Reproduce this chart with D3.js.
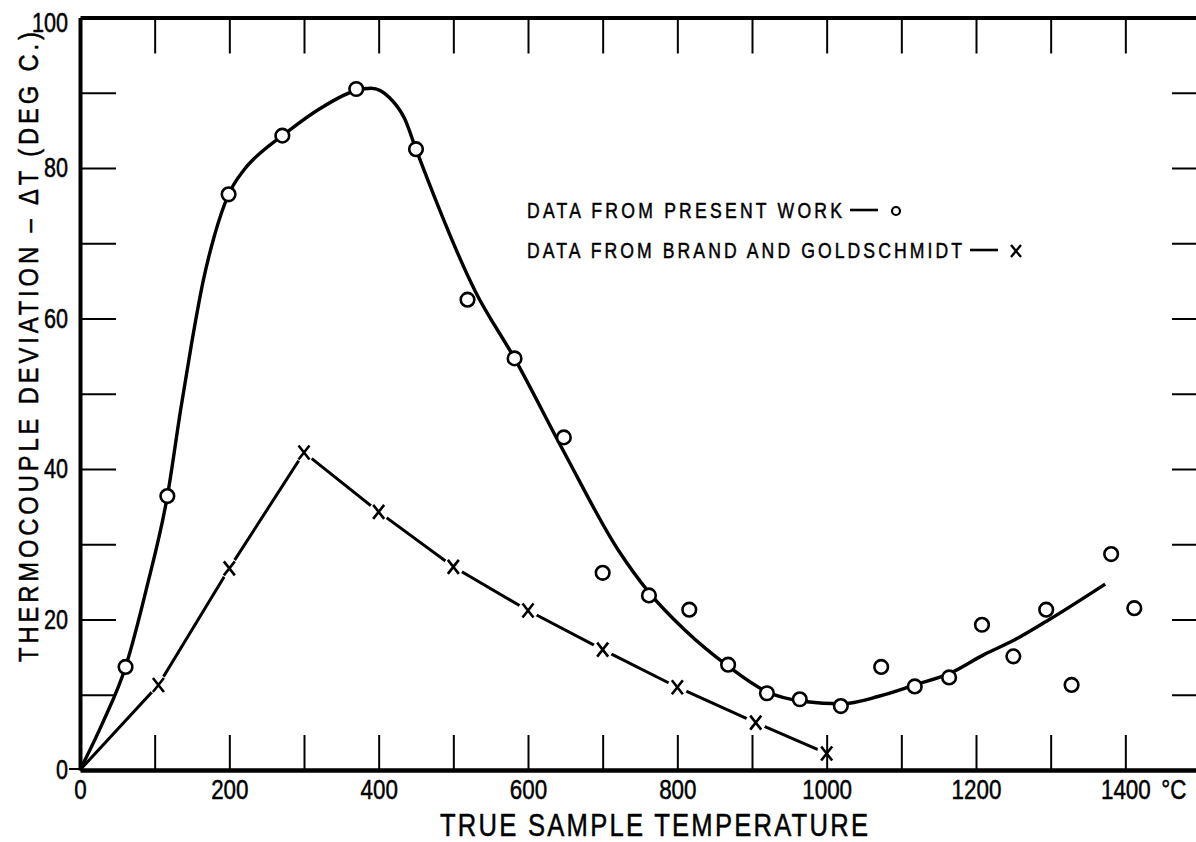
<!DOCTYPE html>
<html><head><meta charset="utf-8">
<script src="https://cdn.jsdelivr.net/npm/d3@7"></script>
<style>
html,body{margin:0;padding:0;background:#fff;}
svg{display:block;background:#fff;}
text{font-family:"Liberation Sans",Arial,sans-serif;fill:#000;stroke:#000;stroke-width:0.5;}
</style></head><body>
<svg id="c" width="1196" height="842"></svg>
<script>
// ---- data ----
const presentT  = [61,117,199,271,370,450,519,582,648,700,762,816,868,920,964,1019,1073,1118,1164,1208,1250,1294,1328,1381,1412];
const presentDT = [13.7,36.4,76.5,84.3,90.5,82.5,62.5,54.7,44.2,26.2,23.2,21.3,14.0,10.2,9.4,8.5,13.7,11.1,12.3,19.3,15.1,21.3,11.3,28.7,21.5];

// smooth curve drawn through the present-work data
const fitT  = [0,30,61,90,117,135,150,165,180,199,220,245,271,320,370,390,415,435,450,530,582,648,721,762,810,868,920,970,1020,1070,1118,1164,1210,1250,1295,1373];
const fitDT = [0,6.2,13.7,24.5,36.4,48,57,65,71,76.5,79.8,82.3,84.3,87.8,90.3,90.6,89.3,86.5,82.5,63.5,54.7,42.3,29.2,23.6,18.6,13.8,10.4,9.1,8.8,9.8,11.3,12.8,15.3,17.2,19.8,24.7];

const brandT  = [0,105,200,300,400,500,600,700,800,905,1000];
const brandDT = [0,11.3,26.8,42.2,34.3,27.0,21.2,16.0,11.0,6.3,2.2];

const xTickValues = [100,200,300,400,500,600,700,800,900,1000,1100,1200,1300,1400];
const xTickLabels = [0,200,400,600,800,1000,1200,1400];
const yTickValues = [10,20,30,40,50,60,70,80,90];
const yTickLabels = [0,20,40,60,80,100];
const xUnit = "°C";
const xTitle = "TRUE SAMPLE TEMPERATURE";
const yTitle = "THERMOCOUPLE DEVIATION – ΔT (DEG C.)";
const legendLabels = ["DATA FROM PRESENT WORK", "DATA FROM BRAND AND GOLDSCHMIDT"];
const legendMarks = ["o", "x"];

// ---- scales ----
const x = d3.scaleLinear().domain([0,1500]).range([80,1200]);
const y = d3.scaleLinear().domain([0,100]).range([770,17.5]);
const SX = 0.8; // condensed lettering

const svg = d3.select("#c");

const brand = brandT.map((t,i)=>({t, v:brandDT[i]}));
const present = presentT.map((t,i)=>({t, v:presentDT[i]}));
const fit = fitT.map((t,i)=>({t, v:fitDT[i]}));

svg.append("path").datum(brand)
  .attr("d", d3.line().x(d=>x(d.t)).y(d=>y(d.v)))
  .attr("fill","none").attr("stroke","#000").attr("stroke-width",3);

// knockouts around x markers (broken line look)
svg.append("g").selectAll("circle").data(brand.slice(1)).join("circle")
  .attr("cx",d=>x(d.t)).attr("cy",d=>y(d.v)).attr("r",10).attr("fill","#fff");

svg.append("path").datum(fit)
  .attr("d", d3.line().curve(d3.curveMonotoneX).x(d=>x(d.t)).y(d=>y(d.v)))
  .attr("fill","none").attr("stroke","#000").attr("stroke-width",3.4);

// ---- axes ----
function styleAxis(g, w){
  g.select(".domain").attr("stroke","#000").attr("stroke-width",w);
  g.selectAll(".tick line").attr("stroke","#000").attr("stroke-width",2);
  g.selectAll("text").attr("font-family",null);
}
const fontTick = 28;

const gB = svg.append("g").attr("transform",`translate(0,${y(0)})`)
  .call(d3.axisBottom(x).tickValues([0,...xTickValues]).tickSize(-35).tickSizeOuter(0).tickPadding(9)
    .tickFormat(d=> xTickLabels.includes(d) ? d : ""));
styleAxis(gB,4.5);
gB.selectAll("text").attr("font-size",fontTick).attr("transform",`scale(${SX},1)`);
gB.selectAll(".tick").filter(d=>d===0).select("line").remove();

const gT = svg.append("g").attr("transform",`translate(0,${y(100)})`)
  .call(d3.axisTop(x).tickValues(xTickValues).tickSize(-36).tickSizeOuter(0).tickFormat(""));
styleAxis(gT,4);

const gL = svg.append("g").attr("transform",`translate(${x(0)},0)`)
  .call(d3.axisLeft(y).tickValues([0,...yTickValues,100]).tickSize(-36).tickSizeOuter(0).tickPadding(12)
    .tickFormat(d=> yTickLabels.includes(d) ? d : ""));
styleAxis(gL,4);
gL.selectAll(".tick").filter(d=>d===0||d===100).select("line").remove();
gL.selectAll("text").attr("font-size",27).attr("x",-12/SX).attr("transform",`scale(${SX},1)`);
gL.selectAll(".tick").filter(d=>d===100).select("text").attr("y",5);
svg.append("line").attr("x1",x(0)-11).attr("x2",x(0)).attr("y1",y(0)-1).attr("y2",y(0)-1)
  .attr("stroke","#000").attr("stroke-width",2);

const gR = svg.append("g").attr("transform",`translate(${x(1500)},0)`)
  .call(d3.axisRight(y).tickValues(yTickValues).tickSize(-28).tickSizeOuter(0).tickFormat(""));
styleAxis(gR,4);

// unit after last x label
svg.append("text").attr("transform",`translate(${x(1400)+36},${y(0)+9}) scale(${SX},1)`)
  .attr("dy","0.71em").attr("font-size",fontTick).text(xUnit);

// ---- markers ----
svg.append("g").selectAll("path").data(brand.slice(1)).join("path")
  .attr("transform",d=>`translate(${x(d.t)},${y(d.v)})`)
  .attr("d","M-5.5,-7L5.5,7M5.5,-7L-5.5,7")
  .attr("stroke","#000").attr("stroke-width",2.6).attr("fill","none");

svg.append("g").selectAll("circle").data(present).join("circle")
  .attr("cx",d=>x(d.t)).attr("cy",d=>y(d.v)).attr("r",6.8)
  .attr("fill","#fff").attr("stroke","#000").attr("stroke-width",2.6);

// ---- titles ----
function condText(tx, ty, rot, size, len, str, anchor, sx){
  const s = sx || SX;
  return svg.append("text")
    .attr("transform",`translate(${tx},${ty})${rot?` rotate(${rot})`:""} scale(${s},1)`)
    .attr("text-anchor",anchor||"middle").attr("font-size",size)
    .attr("textLength",len/s).attr("lengthAdjust","spacing").text(str);
}
condText(440, 836, 0, 32, 428, xTitle, "start");
condText(38, 662, -90, 28, 630, yTitle, "start", 0.85);

// ---- legend ----
const legY = [218, 258];
const legEnd = [842, 962];
legendLabels.forEach((lab,i)=>{
  condText(527, legY[i], 0, 22, legEnd[i]-527, lab, "start");
  svg.append("line").attr("x1",legEnd[i]+8).attr("x2",legEnd[i]+36)
    .attr("y1",legY[i]-8).attr("y2",legY[i]-8).attr("stroke","#000").attr("stroke-width",2.6);
  if (legendMarks[i]==="o") {
    svg.append("circle").attr("cx",legEnd[i]+54).attr("cy",legY[i]-7).attr("r",4)
      .attr("fill","none").attr("stroke","#000").attr("stroke-width",2.2);
  } else {
    svg.append("path").attr("transform",`translate(${legEnd[i]+54},${legY[i]-7})`)
      .attr("d","M-5,-6L5,6M5,-6L-5,6").attr("stroke","#000").attr("stroke-width",2.4);
  }
});
</script>
</body></html>
